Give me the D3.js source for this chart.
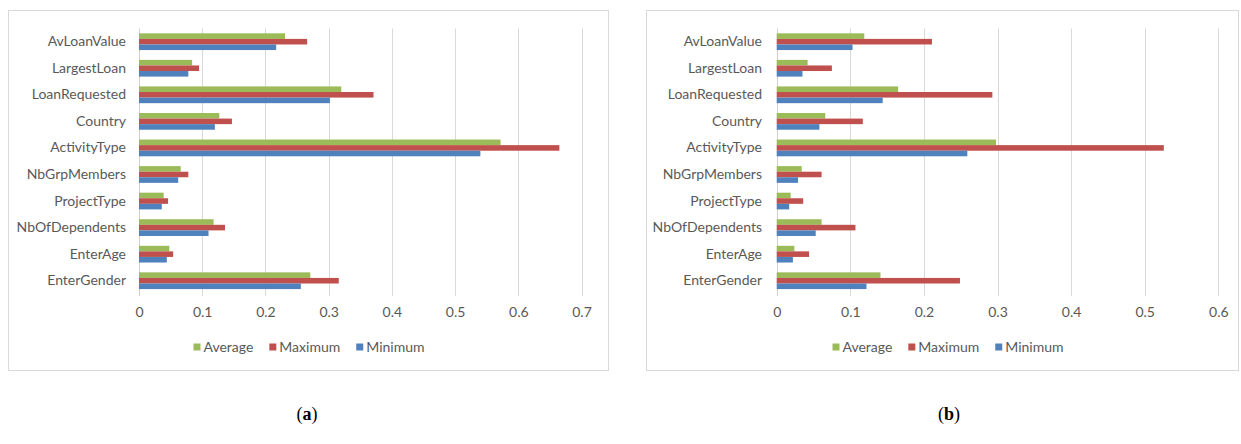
<!DOCTYPE html>
<html>
<head>
<meta charset="utf-8">
<script src="https://cdn.jsdelivr.net/npm/d3@7"></script>
<style>
  html, body { margin: 0; padding: 0; background: #ffffff; }
  svg { display: block; }
  .cat, .tick-label, .legend-label { font-family: Lato, "Open Sans", sans-serif; fill: #595959; }
  .caption { font-family: "Liberation Serif", "DejaVu Serif", serif; fill: #000; }
</style>
</head>
<body>
<svg id="chart" width="1241" height="444"></svg>
<script>
// Feature categories, listed top to bottom
const categories = ["AvLoanValue", "LargestLoan", "LoanRequested", "Country", "ActivityType",
  "NbGrpMembers", "ProjectType", "NbOfDependents", "EnterAge", "EnterGender"];
const seriesNames = ["Average", "Maximum", "Minimum"];
const seriesColors = ["#9bbb59", "#c0504d", "#4f81bd"];

// Panel (a)
const averageA = [0.231, 0.084, 0.320, 0.127, 0.572, 0.066, 0.039, 0.118, 0.048, 0.271];
const maximumA = [0.266, 0.095, 0.371, 0.147, 0.665, 0.078, 0.046, 0.136, 0.054, 0.316];
const minimumA = [0.217, 0.078, 0.302, 0.120, 0.540, 0.062, 0.036, 0.110, 0.044, 0.256];
const ticksA = [0, 0.1, 0.2, 0.3, 0.4, 0.5, 0.6, 0.7];

// Panel (b)
const averageB = [0.119, 0.042, 0.165, 0.066, 0.298, 0.034, 0.019, 0.061, 0.024, 0.141];
const maximumB = [0.211, 0.075, 0.293, 0.117, 0.526, 0.061, 0.036, 0.107, 0.044, 0.249];
const minimumB = [0.103, 0.035, 0.144, 0.058, 0.259, 0.029, 0.017, 0.053, 0.022, 0.122];
const ticksB = [0, 0.1, 0.2, 0.3, 0.4, 0.5, 0.6];

const svg = d3.select("#chart");

function drawPanel(opt) {
  const g = svg.append("g");
  const series = [opt.average, opt.maximum, opt.minimum];

  // chart frame
  g.append("rect")
    .attr("x", opt.frame[0] + 0.5).attr("y", opt.frame[1] + 0.5)
    .attr("width", opt.frame[2] - opt.frame[0]).attr("height", opt.frame[3] - opt.frame[1])
    .attr("fill", "#fff").attr("stroke", "#d9d9d9").attr("stroke-width", 1);

  const x = d3.scaleLinear()
    .domain([0, opt.ticks[opt.ticks.length - 1]])
    .range([opt.plotLeft, opt.plotRight]);

  const y = d3.scaleBand()
    .domain(categories)
    .range([opt.plotTop, opt.plotBottom])
    .paddingInner(0.37)
    .paddingOuter(0.185);

  const yInner = d3.scaleBand()
    .domain(seriesNames)
    .range([0, y.bandwidth()]);

  // vertical gridlines
  g.append("g").selectAll("line")
    .data(opt.ticks)
    .join("line")
    .attr("x1", d => Math.round(x(d)) + 0.5)
    .attr("x2", d => Math.round(x(d)) + 0.5)
    .attr("y1", opt.plotTop)
    .attr("y2", opt.plotBottom + 2)
    .attr("stroke", d => d === 0 ? "#d0d0d0" : "#d9d9d9")
    .attr("stroke-width", 1);

  // bars
  const groups = g.append("g").selectAll("g")
    .data(categories)
    .join("g")
    .attr("transform", d => `translate(0,${y(d)})`);

  groups.selectAll("rect")
    .data((d, i) => seriesNames.map((s, k) => ({ s, k, v: series[k][i] })))
    .join("rect")
    .attr("x", x(0))
    .attr("y", d => yInner(d.s))
    .attr("width", d => x(d.v) - x(0))
    .attr("height", yInner.bandwidth())
    .attr("fill", d => seriesColors[d.k]);

  // category labels
  const yAxis = d3.axisLeft(y).tickSize(0).tickPadding(0);
  const ya = g.append("g")
    .attr("transform", `translate(${opt.labelRight},0)`)
    .call(yAxis);
  ya.select(".domain").remove();
  ya.selectAll("text")
    .attr("class", "cat")
    .attr("font-size", 14)
    .attr("fill", "#595959");

  // value axis labels
  const xAxis = d3.axisBottom(x).tickValues(opt.ticks).tickSize(0).tickPadding(0)
    .tickFormat(d => d === 0 ? "0" : d3.format(".1f")(d));
  const xa = g.append("g")
    .attr("transform", `translate(0,${opt.tickY})`)
    .call(xAxis);
  xa.select(".domain").remove();
  xa.selectAll("text")
    .attr("class", "tick-label")
    .attr("font-size", 14)
    .attr("fill", "#595959")
    .attr("dy", "0.35em")
    .attr("y", 0);

  // legend
  const leg = g.append("g").attr("transform", `translate(0,${opt.legendY})`);
  const items = leg.selectAll("g")
    .data(seriesNames)
    .join("g");
  items.append("rect")
    .attr("width", 7).attr("height", 7)
    .attr("y", -3.5)
    .attr("fill", (d, i) => seriesColors[i]);
  items.append("text")
    .attr("class", "legend-label")
    .attr("x", 10)
    .attr("dy", "0.35em")
    .attr("font-size", 14)
    .text(d => d);
  const widths = [];
  items.each(function () { widths.push(this.getBBox().width); });
  const gap = 16;
  const total = d3.sum(widths) + gap * (widths.length - 1);
  let cx = opt.legendCenter - total / 2;
  items.attr("transform", (d, i) => {
    const t = `translate(${cx},0)`;
    cx += widths[i] + gap;
    return t;
  });

  // panel caption
  const cap = svg.append("text")
    .attr("class", "caption")
    .attr("x", opt.captionX)
    .attr("y", opt.captionY)
    .attr("text-anchor", "middle")
    .attr("font-size", 18);
  cap.append("tspan").text("(");
  cap.append("tspan").attr("font-weight", "bold").text(opt.caption);
  cap.append("tspan").text(")");
}

drawPanel({
  average: averageA, maximum: maximumA, minimum: minimumA, ticks: ticksA,
  frame: [8, 10, 608, 370],
  plotLeft: 139, plotRight: 581.5, plotTop: 28.4, plotBottom: 294,
  labelRight: 126, tickY: 312, legendY: 347, legendCenter: 309,
  caption: "a", captionX: 307, captionY: 420
});

drawPanel({
  average: averageB, maximum: maximumB, minimum: minimumB, ticks: ticksB,
  frame: [646, 10, 1238, 370],
  plotLeft: 776.7, plotRight: 1218.3, plotTop: 28.4, plotBottom: 294,
  labelRight: 762, tickY: 312, legendY: 347, legendCenter: 948,
  caption: "b", captionX: 949, captionY: 420
});
</script>
</body>
</html>
